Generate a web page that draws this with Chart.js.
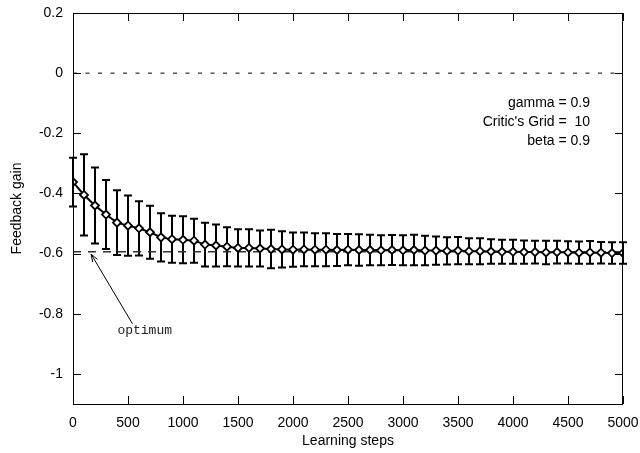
<!DOCTYPE html>
<html><head><meta charset="utf-8">
<script src="https://cdn.jsdelivr.net/npm/chart.js@4/dist/chart.umd.min.js"></script>
<style>html,body{margin:0;padding:0;background:#fff}</style>
</head><body>
<canvas id="c" width="640" height="453"></canvas>
<script>
// ---- data ----
const steps = [0,100,200,300,400,500,600,700,800,900,1000,1100,1200,1300,1400,1500,1600,1700,1800,1900,2000,2100,2200,2300,2400,2500,2600,2700,2800,2900,3000,3100,3200,3300,3400,3500,3600,3700,3800,3900,4000,4100,4200,4300,4400,4500,4600,4700,4800,4900,5000];
const gain = [-0.362,-0.405,-0.440,-0.470,-0.497,-0.507,-0.516,-0.529,-0.546,-0.552,-0.554,-0.557,-0.570,-0.573,-0.577,-0.581,-0.581,-0.583,-0.585,-0.586,-0.587,-0.586,-0.587,-0.587,-0.588,-0.587,-0.588,-0.588,-0.589,-0.588,-0.589,-0.588,-0.590,-0.590,-0.591,-0.590,-0.592,-0.592,-0.593,-0.594,-0.594,-0.595,-0.595,-0.596,-0.595,-0.596,-0.597,-0.596,-0.597,-0.598,-0.598];
const gainErr = [0.081,0.135,0.126,0.115,0.108,0.100,0.090,0.088,0.080,0.078,0.078,0.073,0.073,0.070,0.065,0.062,0.062,0.060,0.064,0.060,0.057,0.056,0.055,0.055,0.053,0.052,0.052,0.051,0.050,0.050,0.050,0.051,0.049,0.047,0.045,0.045,0.043,0.043,0.041,0.040,0.040,0.039,0.038,0.039,0.038,0.037,0.037,0.038,0.036,0.036,0.036];
const optimumValue = -0.594;
const xTicks = [0,500,1000,1500,2000,2500,3000,3500,4000,4500,5000];
const yTicks = [-1,-0.8,-0.6,-0.4,-0.2,0,0.2];
const infoLines = ["gamma = 0.9","Critic's Grid =  10","beta = 0.9"];
const optimumLabel = "optimum";

const FONT = {family:"'Liberation Sans', Arial, sans-serif", size:14};

const points = steps.map((s,i)=>({x:s,y:gain[i]}));

const framePlugin = {
  id:'frame',
  beforeDatasetsDraw(chart){
    const {ctx, scales:{x,y}} = chart;
    ctx.save();
    ctx.strokeStyle='#000'; ctx.lineWidth=2;
    steps.forEach((s,i)=>{
      const px=x.getPixelForValue(s);
      const top=y.getPixelForValue(gain[i]+gainErr[i]);
      const bot=y.getPixelForValue(gain[i]-gainErr[i]);
      ctx.beginPath();
      ctx.moveTo(px,top); ctx.lineTo(px,bot);
      ctx.moveTo(px-4,top); ctx.lineTo(px+4,top);
      ctx.moveTo(px-4,bot); ctx.lineTo(px+4,bot);
      ctx.stroke();
    });
    ctx.restore();
  },
  afterDatasetsDraw(chart){
    const {ctx, chartArea:a, scales:{x,y}} = chart;
    ctx.save();
    ctx.strokeStyle='#000'; ctx.lineWidth=1;
    ctx.strokeRect(Math.round(a.left)+0.5,Math.round(a.top)+0.5,Math.round(a.right-a.left)-1,Math.round(a.bottom-a.top));
    ctx.beginPath();
    yTicks.forEach(v=>{
      const py=Math.round(y.getPixelForValue(v))+0.5;
      ctx.moveTo(a.left,py); ctx.lineTo(a.left+8,py);
      ctx.moveTo(a.right,py); ctx.lineTo(a.right-8,py);
    });
    xTicks.forEach(v=>{
      const px=Math.round(x.getPixelForValue(v))+0.5;
      ctx.moveTo(px,a.bottom); ctx.lineTo(px,a.bottom-8);
      ctx.moveTo(px,a.top); ctx.lineTo(px,a.top+8);
    });
    ctx.stroke();
    // info text
    ctx.fillStyle='#000';
    ctx.font="14px 'Liberation Sans', Arial, sans-serif";
    ctx.textAlign='right'; ctx.textBaseline='middle';
    const tx=x.getPixelForValue(4700);
    [-0.099,-0.162,-0.227].forEach((v,i)=>ctx.fillText(infoLines[i],tx,y.getPixelForValue(v)));
    // optimum annotation
    const hx=x.getPixelForValue(165), hy=y.getPixelForValue(-0.602);
    const tx2=x.getPixelForValue(540), ty2=y.getPixelForValue(-0.833);
    ctx.lineWidth=1; ctx.strokeStyle='#000';
    ctx.beginPath(); ctx.moveTo(tx2,ty2); ctx.lineTo(hx,hy); ctx.stroke();
    const ang=Math.atan2(hy-ty2,hx-tx2);
    ctx.beginPath();
    ctx.moveTo(hx,hy); ctx.lineTo(hx-8*Math.cos(ang-0.35),hy-8*Math.sin(ang-0.35));
    ctx.moveTo(hx,hy); ctx.lineTo(hx-8*Math.cos(ang+0.35),hy-8*Math.sin(ang+0.35));
    ctx.stroke();
    ctx.fillStyle='#222';
    ctx.font="13px 'Liberation Mono', 'DejaVu Sans Mono', monospace";
    ctx.textAlign='center';
    ctx.fillText(optimumLabel,x.getPixelForValue(652),y.getPixelForValue(-0.857));
    ctx.restore();
  }
};

new Chart(document.getElementById('c'),{
  type:'line',
  data:{datasets:[
    {data:[{x:0,y:0},{x:5000,y:0}],borderColor:'#000',borderWidth:1,borderDash:[4,8.5],pointRadius:0,order:3},
    {data:[{x:0,y:optimumValue},{x:5000,y:optimumValue}],borderColor:'#333',borderWidth:1.5,borderDash:[8,7],pointRadius:0,order:2},
    {data:points,borderColor:'#000',borderWidth:2,pointStyle:'rectRot',pointRadius:4,pointBorderWidth:1.8,pointBackgroundColor:'#fff',pointBorderColor:'#000',tension:0,order:1}
  ]},
  options:{
    responsive:false, animation:false, devicePixelRatio:1,
    layout:{padding:{top:13,right:17,left:0,bottom:0}},
    plugins:{legend:{display:false},tooltip:{enabled:false}},
    scales:{
      x:{type:'linear',min:0,max:5000,
        afterBuildTicks:s=>{s.ticks=xTicks.map(v=>({value:v}));},
        afterFit:s=>{s.height=49; s.paddingLeft=0; s.paddingRight=0;},
        grid:{display:false,drawTicks:false},border:{display:false},
        ticks:{font:FONT,color:'#000',padding:11,maxRotation:0,autoSkip:false,callback:v=>String(v)},
        title:{display:true,text:'Learning steps',font:FONT,color:'#000',padding:{top:0,bottom:3}}},
      y:{type:'linear',min:-1.1,max:0.2,
        afterBuildTicks:s=>{s.ticks=yTicks.map(v=>({value:v}));},
        afterFit:s=>{s.width=73; s.paddingTop=0; s.paddingBottom=0;},
        grid:{display:false,drawTicks:false},border:{display:false},
        ticks:{font:FONT,color:'#000',padding:10,autoSkip:false,callback:v=>{const n=Number(v.toFixed(1));return n===0?'0':String(n);}},
        title:{display:true,text:'Feedback gain',font:FONT,color:'#000',padding:{top:9,bottom:0}}}
    }
  },
  plugins:[framePlugin]
});
</script>
</body></html>
